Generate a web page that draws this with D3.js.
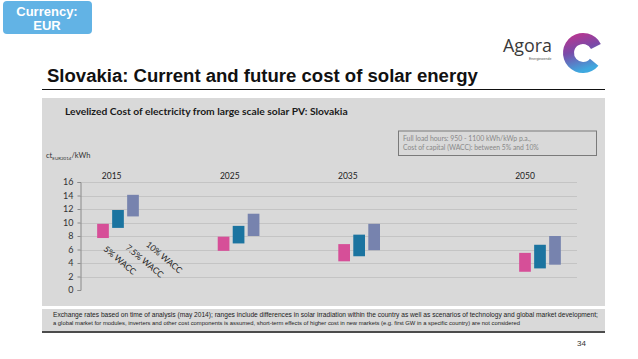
<!DOCTYPE html>
<html><head><meta charset="utf-8">
<script src="https://cdn.jsdelivr.net/npm/d3@7"></script>
<style>body{margin:0;background:#fff;}svg{display:block;}</style>
</head><body>
<script>
const years = [2015, 2025, 2035, 2050];
const series = ["5% WACC", "7.5% WACC", "10% WACC"];
const colors = ["#d64f98", "#1b74a0", "#7783ae"];
const low5  = [7.7, 5.8, 4.25, 2.7];
const high5 = [9.8, 7.9, 6.8, 5.5];
const low75  = [9.2, 6.9, 5.0, 3.2];
const high75 = [11.85, 9.5, 8.2, 6.7];
const low10  = [10.9, 8.0, 5.9, 3.75];
const high10 = [14.1, 11.3, 9.8, 8.0];
const yTicks = [0, 2, 4, 6, 8, 10, 12, 14, 16];
const footLines = [
 "Exchange rates based on time of analysis (may 2014); ranges include differences in solar irradiation within the country as well as scenarios of technology and global market development;",
 "a global market for modules, inverters and other cost components is assumed, short-term effects of higher cost in new markets (e.g. first GW in a specific country) are not considered"
];
const infoLines = ["Full load hours: 950 - 1100 kWh/kWp p.a.,", "Cost of capital (WACC): between 5% and 10%"];

const lows = [low5, low75, low10], highs = [high5, high75, high10];
const bars = [];
series.forEach((s, i) => years.forEach((y, j) => bars.push({s, i, year: y, lo: lows[i][j], hi: highs[i][j]})));

const W = 638, H = 359;
const svg = d3.select("body").append("svg").attr("width", W).attr("height", H);
const sans = "'Liberation Sans', Arial, sans-serif";
const cal = "Lato, 'Open Sans', sans-serif";

function fit(sel, target) {
  const n = sel.node(); let fs = parseFloat(sel.attr("font-size"));
  const w = n.getComputedTextLength();
  if (w > 0) sel.attr("font-size", (fs * target / w).toFixed(2));
  return sel;
}

// Currency badge
svg.append("rect").attr("x", 3).attr("y", 1).attr("width", 89).attr("height", 33).attr("rx", 4).attr("fill", "#62b3e5");
svg.append("text").attr("x", 47).attr("y", 15.5).attr("text-anchor", "middle").attr("font-family", sans).attr("font-weight", "bold").attr("font-size", 13).attr("fill", "#fff").text("Currency:");
svg.append("text").attr("x", 47).attr("y", 30).attr("text-anchor", "middle").attr("font-family", sans).attr("font-weight", "bold").attr("font-size", 13).attr("fill", "#fff").text("EUR");

// Logo
const ag = svg.append("text").attr("x", 503).attr("y", 51.5).attr("font-family", "'Open Sans', sans-serif").attr("font-size", 21).attr("fill", "#3a3a3a").text("Agora");
fit(ag, 49);
svg.append("text").attr("x", 529).attr("y", 60).attr("font-family", sans).attr("font-size", 3.5).attr("fill", "#555").text("Energiewende");
const defs = svg.append("defs");
const lg = defs.append("linearGradient").attr("id", "lg").attr("x1", "0").attr("y1", "0").attr("x2", "0.3").attr("y2", "1");
lg.append("stop").attr("offset", "0").attr("stop-color", "#c8308a");
lg.append("stop").attr("offset", "0.5").attr("stop-color", "#7a4aa8");
lg.append("stop").attr("offset", "1").attr("stop-color", "#3fa8df");
const arc = d3.arc().innerRadius(9).outerRadius(20).startAngle(Math.PI * 0.72).endAngle(Math.PI * 2.35);
svg.append("path").attr("transform", "translate(583,53)").attr("d", arc()).attr("fill", "url(#lg)");

// Title
const title = svg.append("text").attr("x", 47).attr("y", 82).attr("font-family", sans).attr("font-weight", "bold").attr("font-size", 17).attr("fill", "#111").text("Slovakia: Current and future cost of solar energy");
fit(title, 431);
svg.append("line").attr("x1", 42).attr("x2", 605).attr("y1", 89.5).attr("y2", 89.5).attr("stroke", "#111").attr("stroke-width", 1.2);

// Panel
svg.append("rect").attr("x", 42).attr("y", 98).attr("width", 563).attr("height", 208).attr("fill", "#d9d9d9");
const sub = svg.append("text").attr("x", 65).attr("y", 114.5).attr("font-family", cal).attr("font-weight", "bold").attr("font-size", 10).attr("fill", "#1a1a1a").text("Levelized Cost of electricity from large scale solar PV: Slovakia");
fit(sub, 283);

// Info box
svg.append("rect").attr("x", 398.5).attr("y", 131).attr("width", 198).attr("height", 24.5).attr("fill", "none").attr("stroke", "#7a7a7a").attr("stroke-width", 1);
infoLines.forEach((t, i) => {
  const tx = svg.append("text").attr("x", 403).attr("y", 141 + i * 8.6).attr("font-family", cal).attr("font-size", 6.5).attr("fill", "#888").text(t);
  fit(tx, i === 0 ? 128 : 136);
});

// Unit label
const unit = svg.append("text").attr("x", 46).attr("y", 158).attr("font-family", cal).attr("font-size", 7.5).attr("fill", "#333");
unit.append("tspan").text("ct");
unit.append("tspan").attr("font-size", 4.5).attr("dy", 1.5).text("EUR2014");
unit.append("tspan").attr("dy", -1.5).text("/kWh");

// Scales
const y = d3.scaleLinear().domain([0, 16]).range([290, 182]);
const x = d3.scaleLinear().domain([2015, 2050]).range([118, 540]);
const xLab = d3.scaleLinear().domain([2015, 2050]).range([111.7, 525]);
const off = d3.scalePoint().domain(series).range([-15, 15]);
const bw = 11.7;

// Gridlines
svg.append("g").selectAll("line").data(yTicks.slice(1)).join("line")
  .attr("x1", 80).attr("x2", 577).attr("y1", d => Math.round(y(d)) + 0.5).attr("y2", d => Math.round(y(d)) + 0.5)
  .attr("stroke", "#c4c4c4").attr("stroke-width", 1);

// Y axis
const yAxis = svg.append("g").attr("transform", "translate(80.5,0)")
  .call(d3.axisLeft(y).tickValues(yTicks).tickSize(3).tickPadding(4));
yAxis.select(".domain").attr("stroke", "#8a8a8a");
yAxis.selectAll(".tick line").attr("stroke", "#8a8a8a");
yAxis.selectAll(".tick text").attr("font-family", cal).attr("font-size", 9).attr("fill", "#333");

// Year labels
svg.append("g").selectAll("text").data(years).join("text")
  .attr("x", d => xLab(d)).attr("y", 179).attr("text-anchor", "middle")
  .attr("font-family", cal).attr("font-size", 8.5).attr("fill", "#222").text(d => d);

// Bars
svg.append("g").selectAll("rect").data(bars).join("rect")
  .attr("x", d => x(d.year) + off(d.s) - bw / 2).attr("width", bw)
  .attr("y", d => y(d.hi)).attr("height", d => y(d.lo) - y(d.hi))
  .attr("fill", d => colors[d.i]);

// Rotated series labels
const labPos = [[103, 250], [125, 248.5], [145.5, 245.5]];
svg.append("g").selectAll("text").data(series).join("text")
  .attr("transform", (d, i) => `translate(${labPos[i][0]},${labPos[i][1]}) rotate(40)`)
  .attr("font-family", cal).attr("font-size", 8.5).attr("fill", "#222").text(d => d);

// Footnote
svg.append("rect").attr("x", 42).attr("y", 309).attr("width", 563).attr("height", 22).attr("fill", "#d9d9d9");
const fw = [546, 467];
footLines.forEach((t, i) => {
  const tx = svg.append("text").attr("x", 53).attr("y", 316.5 + i * 8.8).attr("font-family", sans).attr("font-size", 6).attr("fill", "#222").text(t);
  fit(tx, fw[i]);
});
svg.append("line").attr("x1", 42).attr("x2", 605).attr("y1", 332).attr("y2", 332).attr("stroke", "#111").attr("stroke-width", 1.5);
svg.append("text").attr("x", 586).attr("y", 346).attr("text-anchor", "end").attr("font-family", sans).attr("font-size", 8).attr("fill", "#333").text("34");
</script>
</body></html>
